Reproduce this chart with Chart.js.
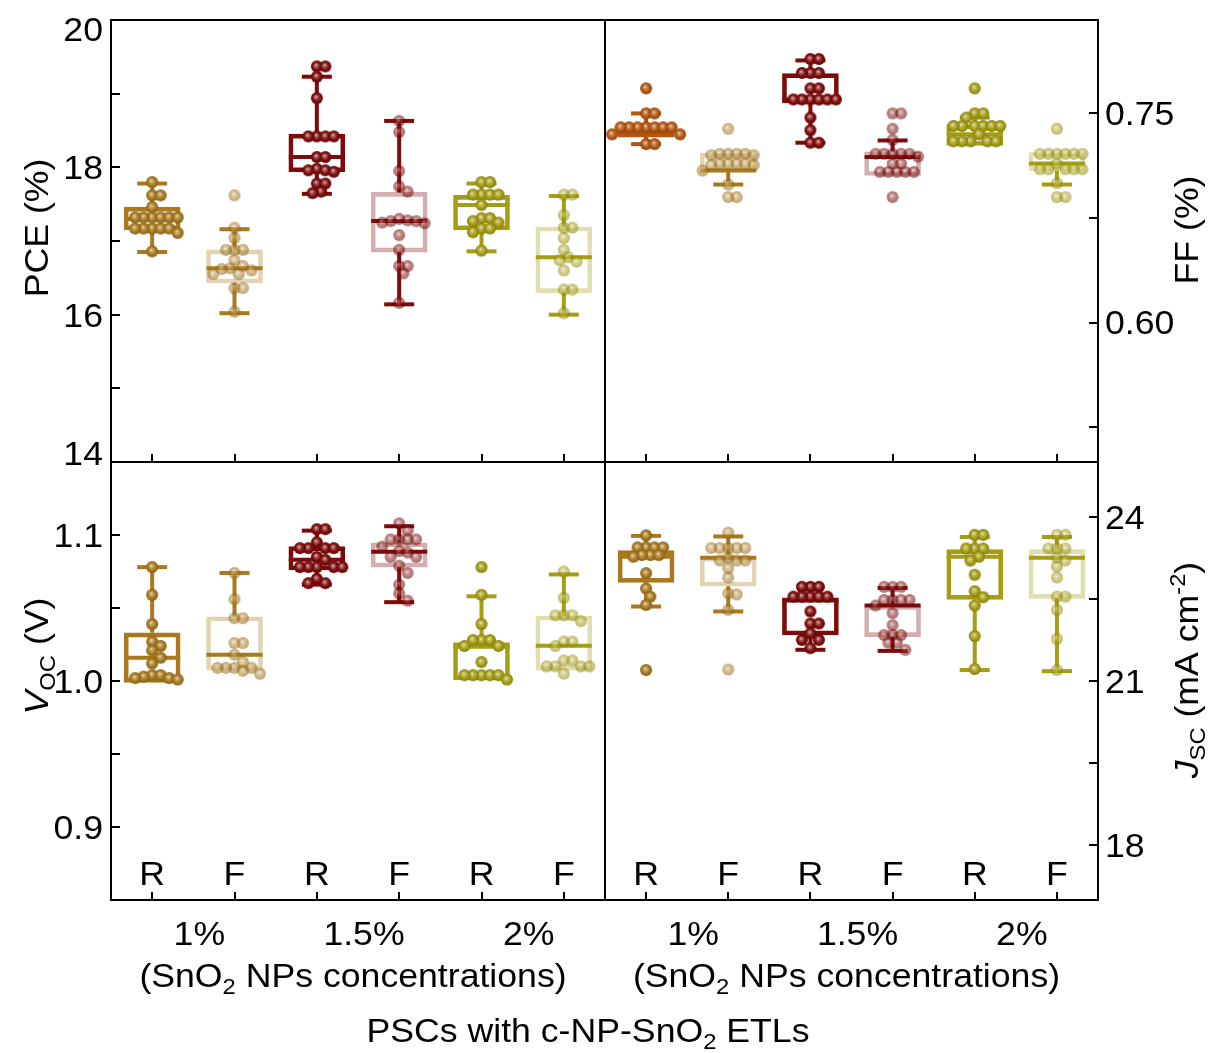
<!DOCTYPE html>
<html>
<head>
<meta charset="utf-8">
<script src="https://cdn.jsdelivr.net/npm/chart.js@4.4.1/dist/chart.umd.min.js"></script>
<style>
  html, body { margin: 0; padding: 0; background: #fff; }
  #wrap { position: relative; width: 1209px; height: 1053px; }
  #wrap canvas { position: absolute; left: 0; top: 0; }
</style>
</head>
<body>
<div id="wrap">
  <canvas id="pceChart" width="1209" height="1053"></canvas>
  <canvas id="ffChart" width="1209" height="1053"></canvas>
  <canvas id="vocChart" width="1209" height="1053"></canvas>
  <canvas id="jscChart" width="1209" height="1053"></canvas>
</div>
<script>
// scan direction per box, grouped by SnO2 NP concentration
const categories = ['R', 'F', 'R', 'F', 'R', 'F'];
const concentrations = ['1%', '1.5%', '2%'];

// PCE (%) of every device, one list per box
const pceValues = [
  [17.80, 17.62, 17.62, 17.46, 17.32, 17.32, 17.32, 17.32, 17.32, 17.32, 17.17, 17.17, 17.17, 17.17, 17.17, 17.11, 16.86],
  [17.62, 17.18, 17.04, 16.88, 16.88, 16.88, 16.74, 16.66, 16.63, 16.62, 16.60, 16.55, 16.55, 16.36, 16.36, 16.04],
  [19.37, 19.37, 19.23, 18.94, 18.42, 18.42, 18.42, 18.42, 18.14, 18.14, 17.98, 17.96, 17.96, 17.94, 17.78, 17.78, 17.67, 17.65],
  [18.63, 18.48, 17.95, 17.74, 17.67, 17.30, 17.28, 17.27, 17.27, 17.25, 17.24, 17.08, 16.88, 16.66, 16.66, 16.56, 16.16],
  [17.80, 17.80, 17.63, 17.63, 17.63, 17.63, 17.49, 17.31, 17.31, 17.27, 17.25, 17.17, 17.17, 17.12, 16.87],
  [17.63, 17.63, 17.35, 17.18, 17.18, 17.04, 16.88, 16.78, 16.74, 16.72, 16.60, 16.34, 16.34, 16.02]
];
const ffValues = [
  [0.768, 0.750, 0.750, 0.740, 0.740, 0.740, 0.740, 0.740, 0.740, 0.740, 0.735, 0.735, 0.728, 0.728],
  [0.739, 0.721, 0.721, 0.721, 0.721, 0.720, 0.720, 0.714, 0.714, 0.714, 0.714, 0.713, 0.713, 0.709, 0.699, 0.690, 0.690],
  [0.789, 0.789, 0.779, 0.779, 0.779, 0.768, 0.768, 0.760, 0.760, 0.760, 0.760, 0.760, 0.760, 0.747, 0.738, 0.729, 0.729],
  [0.750, 0.750, 0.739, 0.731, 0.721, 0.721, 0.721, 0.721, 0.721, 0.719, 0.714, 0.714, 0.708, 0.708, 0.708, 0.708, 0.708, 0.690],
  [0.768, 0.750, 0.750, 0.747, 0.741, 0.741, 0.741, 0.741, 0.741, 0.741, 0.735, 0.730, 0.730, 0.730, 0.730, 0.730],
  [0.739, 0.721, 0.721, 0.721, 0.721, 0.721, 0.721, 0.714, 0.710, 0.710, 0.710, 0.710, 0.710, 0.700, 0.690, 0.690]
];
const vocValues = [
  [1.078, 1.059, 1.039, 1.027, 1.024, 1.021, 1.016, 1.012, 1.004, 1.004, 1.003, 1.002, 1.002, 1.001],
  [1.074, 1.056, 1.043, 1.043, 1.026, 1.026, 1.018, 1.013, 1.009, 1.009, 1.009, 1.009, 1.007, 1.005],
  [1.104, 1.104, 1.095, 1.091, 1.091, 1.091, 1.091, 1.085, 1.083, 1.078, 1.078, 1.078, 1.078, 1.078, 1.070, 1.067, 1.067],
  [1.108, 1.103, 1.097, 1.097, 1.097, 1.097, 1.092, 1.089, 1.088, 1.085, 1.085, 1.079, 1.074, 1.066, 1.060, 1.055],
  [1.078, 1.059, 1.039, 1.028, 1.028, 1.028, 1.024, 1.024, 1.013, 1.004, 1.004, 1.004, 1.004, 1.004, 1.001],
  [1.075, 1.057, 1.045, 1.045, 1.045, 1.041, 1.027, 1.027, 1.024, 1.014, 1.014, 1.010, 1.010, 1.010, 1.010, 1.005]
];
const jscValues = [
  [23.66, 23.44, 23.44, 23.44, 23.44, 23.30, 23.30, 23.30, 23.27, 22.97, 22.69, 22.54, 22.39, 21.20],
  [23.71, 23.43, 23.43, 23.43, 23.43, 23.43, 23.25, 23.20, 23.20, 23.20, 23.06, 22.89, 22.60, 22.58, 22.30, 21.21],
  [22.72, 22.72, 22.72, 22.54, 22.54, 22.54, 22.54, 22.54, 22.27, 22.05, 22.05, 21.87, 21.75, 21.75, 21.60],
  [22.72, 22.72, 22.72, 22.48, 22.48, 22.48, 22.48, 22.38, 22.24, 22.02, 21.84, 21.84, 21.84, 21.70, 21.70, 21.57],
  [23.67, 23.67, 23.42, 23.42, 23.42, 23.27, 23.20, 22.94, 22.64, 22.53, 22.38, 21.82, 21.22],
  [23.67, 23.67, 23.42, 23.42, 23.42, 23.25, 23.20, 23.09, 22.89, 22.54, 22.54, 22.30, 21.77, 21.20]
];

// box statistics: [whisker low, Q1, median, Q3, whisker high]
const pceBoxes = [
  [16.85, 17.15, 17.30, 17.46, 17.78],
  [16.02, 16.43, 16.63, 16.88, 17.16],
  [17.64, 17.94, 18.14, 18.45, 19.23],
  [16.14, 16.85, 17.27, 17.66, 18.63],
  [16.86, 17.15, 17.49, 17.62, 17.78],
  [16.00, 16.30, 16.78, 17.19, 17.61]
];
const ffBoxes = [
  [0.728, 0.733, 0.737, 0.741, 0.750],
  [0.699, 0.708, 0.709, 0.7215, 0.7215],
  [0.729, 0.7575, 0.760, 0.7785, 0.788],
  [0.7055, 0.7055, 0.7187, 0.7225, 0.7306],
  [0.727, 0.727, 0.735, 0.742, 0.747],
  [0.699, 0.709, 0.714, 0.722, 0.722]
];
const vocBoxes = [
  [0.999, 0.999, 1.016, 1.033, 1.078],
  [1.0075, 1.0075, 1.018, 1.044, 1.074],
  [1.066, 1.076, 1.083, 1.092, 1.103],
  [1.054, 1.078, 1.0886, 1.0947, 1.106],
  [1.0007, 1.0007, 1.0235, 1.0263, 1.058],
  [1.0075, 1.0075, 1.0242, 1.0445, 1.073]
];
const jscBoxes = [
  [22.36, 22.80, 23.27, 23.38, 23.65],
  [22.27, 22.73, 23.25, 23.26, 23.64],
  [21.57, 21.84, 22.47, 22.52, 22.52],
  [21.55, 21.81, 22.38, 22.38, 22.70],
  [21.20, 22.49, 23.27, 23.40, 23.63],
  [21.18, 22.51, 23.25, 23.40, 23.63]
];

// axis ticks (labelled and minor)
const pceTicks = [14, 16, 18, 20];
const pceMinor = [15, 17, 19];
const ffTicks = [0.60, 0.75];
const ffMinor = [0.525, 0.675];
const vocTicks = [0.9, 1.0, 1.1];
const vocMinor = [0.95, 1.05];
const jscTicks = [18, 21, 24];
const jscMinor = [19.5, 22.5];

const gold = '#A8791D';
const orange = '#B4560F';
const maroon = '#7E0B0B';
const olive = '#A59D13';

const FONT = '"Liberation Sans", Arial, sans-serif';
const FS = 33;
const SX = 1.08;

function hexRgb(hex) {
  const n = parseInt(hex.slice(1), 16);
  return [(n >> 16) & 255, (n >> 8) & 255, n & 255];
}
function mix(hex, to, t) {
  const c = hexRgb(hex);
  const m = c.map((v, k) => Math.round(v + (to[k] - v) * t));
  return `rgb(${m[0]},${m[1]},${m[2]})`;
}
function rgba(hex, a) {
  const c = hexRgb(hex);
  return `rgba(${c[0]},${c[1]},${c[2]},${a})`;
}

// shaded ball used as point marker
function makeDot(hex, alpha) {
  const r = 6;
  const cv = document.createElement('canvas');
  cv.width = cv.height = 2 * r + 2;
  const g = cv.getContext('2d');
  const c = r + 1;
  const grad = g.createRadialGradient(c - 1, c - 1.5, 0, c, c, r);
  grad.addColorStop(0, mix(hex, [255, 255, 255], 0.75));
  grad.addColorStop(0.3, mix(hex, [255, 255, 255], 0.3));
  grad.addColorStop(0.65, hex);
  grad.addColorStop(1, mix(hex, [0, 0, 0], 0.2));
  g.globalAlpha = alpha;
  g.fillStyle = grad;
  g.beginPath();
  g.arc(c, c, r, 0, Math.PI * 2);
  g.fill();
  return cv;
}

// spread equal values sideways so the balls do not sit on top of each other
function swarm(vals, center, pxPerUnit, pxPerCat) {
  const placed = [];
  const minD = 8.5;
  const out = new Array(vals.length);
  const idx = vals.map((v, i) => i).sort((a, b) => vals[b] - vals[a]);
  idx.forEach(i => {
    const py = vals[i] * pxPerUnit;
    let k = 0, dx = 0;
    for (;;) {
      dx = (k % 2 ? 1 : -1) * Math.ceil(k / 2) * 4.25;
      if (placed.every(p => Math.hypot(p.x - dx, p.y - py) >= minD)) break;
      k++;
    }
    placed.push({ x: dx, y: py });
    out[i] = { x: center + dx / pxPerCat, y: vals[i] };
  });
  return out;
}

// text made of runs, with sub/superscripts and italics
function drawParts(ctx, parts, x, y, align, rot) {
  ctx.save();
  ctx.translate(x, y);
  if (rot) ctx.rotate(rot);
  ctx.scale(SX, 1);
  const runs = parts.map(p => {
    const size = (p.sub || p.sup) ? Math.round(FS * 0.66) : FS;
    const font = (p.italic ? 'italic ' : '') + size + 'px ' + FONT;
    ctx.font = font;
    return { t: p.t, font, w: ctx.measureText(p.t).width, dy: p.sub ? FS * 0.22 : p.sup ? -FS * 0.38 : 0 };
  });
  const total = runs.reduce((s, r) => s + r.w, 0);
  let cx = align === 'center' ? -total / 2 : align === 'right' ? -total : 0;
  ctx.textAlign = 'left';
  ctx.textBaseline = 'alphabetic';
  ctx.fillStyle = '#000';
  runs.forEach(r => {
    ctx.font = r.font;
    ctx.fillText(r.t, cx, FS * 0.36 + r.dy);
    cx += r.w;
  });
  ctx.restore();
}

const groupTitle = [{ t: '(SnO' }, { t: '2', sub: true }, { t: ' NPs concentrations)' }];
const mainTitle = [{ t: 'PSCs with c-NP-SnO' }, { t: '2', sub: true }, { t: ' ETLs' }];

function axesPlugin(p) {
  return {
    id: 'panelAxes',
    afterDraw(chart) {
      const { ctx, chartArea: a } = chart;
      const xs = chart.scales.x, ys = chart.scales.y;
      const left = p.side === 'left';
      ctx.save();
      ctx.strokeStyle = '#000';
      ctx.lineWidth = 2;
      ctx.strokeRect(a.left, a.top, a.right - a.left, a.bottom - a.top);
      const edge = left ? a.left : a.right;
      const dir = left ? 1 : -1;
      ctx.beginPath();
      p.major.concat(p.minor).forEach(v => {
        const py = Math.round(ys.getPixelForValue(v));
        ctx.moveTo(edge, py);
        ctx.lineTo(edge + dir * 9, py);
      });
      categories.forEach((c, i) => {
        const px = Math.round(xs.getPixelForValue(i));
        ctx.moveTo(px, a.bottom);
        ctx.lineTo(px, a.bottom - 8);
      });
      ctx.stroke();
      ctx.restore();

      p.major.forEach(v => {
        const py = Math.min(Math.max(ys.getPixelForValue(v), a.top + 9), a.bottom - 9);
        drawParts(ctx, [{ t: v.toFixed(p.decimals) }], left ? a.left - 8 : a.right + 7, py, left ? 'right' : 'left');
      });
      drawParts(ctx, p.title, p.titleAt[0], p.titleAt[1], 'center', -Math.PI / 2);

      if (p.bottom) {
        categories.forEach((c, i) => drawParts(ctx, [{ t: c }], xs.getPixelForValue(i), a.bottom - 27, 'center'));
        concentrations.forEach((c, k) => {
          const mid = (xs.getPixelForValue(2 * k) + xs.getPixelForValue(2 * k + 1)) / 2;
          drawParts(ctx, [{ t: c }], mid + 6, a.bottom + 33, 'center');
        });
        const span = (xs.getPixelForValue(0) + xs.getPixelForValue(5)) / 2;
        drawParts(ctx, groupTitle, span - 5, a.bottom + 75, 'center');
        if (p.mainTitle) drawParts(ctx, mainTitle, 588, a.bottom + 130, 'center');
      }
    }
  };
}

function buildPanel(p) {
  const [lo, hi] = p.range;
  const plotH = 1053 - p.pad.top - p.pad.bottom;
  const plotW = 1209 - p.pad.left - p.pad.right;
  const pxPerUnit = plotH / (hi - lo);
  const pxPerCat = plotW / categories.length;
  const isF = i => categories[i] === 'F';
  const datasets = [];

  datasets.push({
    type: 'bar',
    order: 2,
    data: p.boxes.map((b, i) => ({ x: i, y: [b[1], b[3]] })),
    barThickness: 56,
    grouped: false,
    borderWidth: 4,
    borderSkipped: false,
    backgroundColor: 'rgba(0,0,0,0)',
    borderColor: p.colors.map((c, i) => isF(i) ? rgba(c, 0.33) : c)
  });

  p.boxes.forEach((b, i) => {
    datasets.push({
      type: 'scatter',
      order: 1,
      showLine: true,
      spanGaps: false,
      borderColor: p.colors[i],
      borderWidth: 4,
      data: [{ x: i, y: b[4] }, { x: i, y: b[3] }, { x: i, y: null }, { x: i, y: b[1] }, { x: i, y: b[0] }],
      pointStyle: 'line',
      pointBorderColor: p.colors[i],
      pointBorderWidth: 4,
      pointRadius: [b[4] > b[3] ? 15 : 0, 0, 0, 0, b[0] < b[1] ? 15 : 0]
    });
  });

  datasets.push({
    type: 'scatter',
    order: 1,
    data: p.boxes.map((b, i) => ({ x: i, y: b[2] })),
    pointStyle: 'line',
    pointRadius: 28,
    pointBorderWidth: 4,
    pointBorderColor: p.colors
  });

  p.values.forEach((vals, i) => {
    datasets.push({
      type: 'scatter',
      order: 0,
      data: swarm(vals, i, pxPerUnit, pxPerCat),
      pointStyle: makeDot(p.colors[i], isF(i) ? 0.55 : 1),
      pointRadius: 6
    });
  });

  return new Chart(document.getElementById(p.id), {
    type: 'scatter',
    data: { datasets },
    options: {
      responsive: false,
      animation: false,
      devicePixelRatio: 1,
      layout: { padding: p.pad, autoPadding: false },
      scales: {
        x: { type: 'linear', min: -0.5, max: 5.5, display: false, offset: false },
        y: { type: 'linear', min: lo, max: hi, display: false }
      },
      plugins: { legend: { display: false }, tooltip: { enabled: false } }
    },
    plugins: [axesPlugin(p)]
  });
}

buildPanel({
  id: 'pceChart', values: pceValues, boxes: pceBoxes,
  colors: [gold, gold, maroon, maroon, olive, olive],
  range: [14, 20], major: pceTicks, minor: pceMinor, decimals: 0, side: 'left',
  pad: { left: 111, top: 20, right: 604, bottom: 591 },
  title: [{ t: 'PCE (%)' }], titleAt: [36, 228]
});
buildPanel({
  id: 'ffChart', values: ffValues, boxes: ffBoxes,
  colors: [orange, gold, maroon, maroon, olive, olive],
  range: [0.5, 0.817], major: ffTicks, minor: ffMinor, decimals: 2, side: 'right',
  pad: { left: 605, top: 20, right: 111, bottom: 591 },
  title: [{ t: 'FF (%)' }], titleAt: [1186, 230]
});
buildPanel({
  id: 'vocChart', values: vocValues, boxes: vocBoxes,
  colors: [gold, gold, maroon, maroon, olive, olive],
  range: [0.85, 1.15], major: vocTicks, minor: vocMinor, decimals: 1, side: 'left',
  pad: { left: 111, top: 462, right: 604, bottom: 153 },
  title: [{ t: 'V', italic: true }, { t: 'OC', sub: true }, { t: ' (V)' }], titleAt: [36, 656],
  bottom: true, mainTitle: true
});
buildPanel({
  id: 'jscChart', values: jscValues, boxes: jscBoxes,
  colors: [gold, gold, maroon, maroon, olive, olive],
  range: [17, 25], major: jscTicks, minor: jscMinor, decimals: 0, side: 'right',
  pad: { left: 605, top: 462, right: 111, bottom: 153 },
  title: [{ t: 'J', italic: true }, { t: 'SC', sub: true }, { t: ' (mA cm' }, { t: '-2', sup: true }, { t: ')' }], titleAt: [1186, 670],
  bottom: true
});
</script>
</body>
</html>
